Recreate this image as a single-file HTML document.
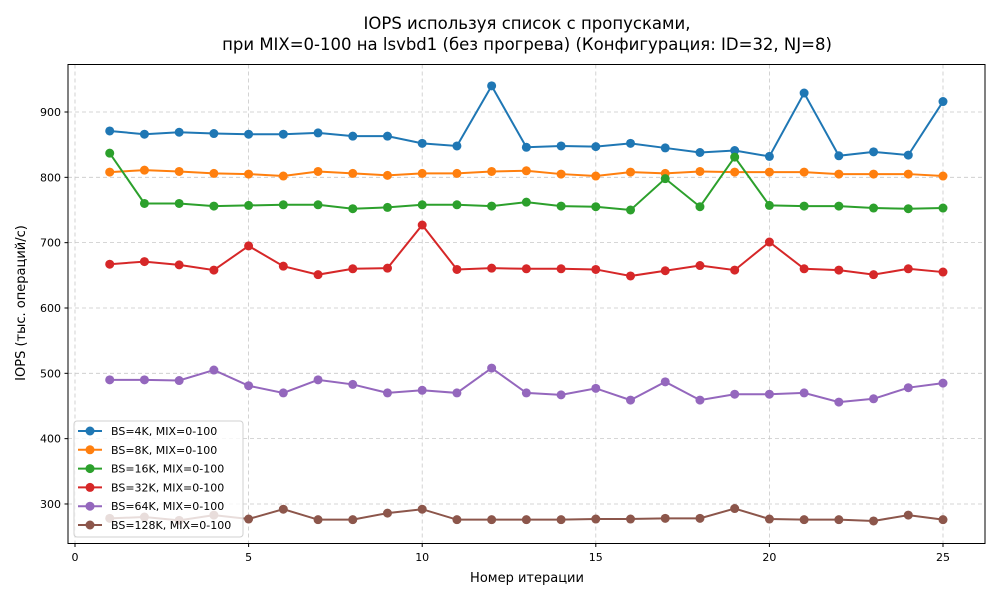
<!DOCTYPE html>
<html><head><meta charset="utf-8"><style>
body{margin:0;background:#fff;font-family:"Liberation Sans","DejaVu Sans",sans-serif}
</style></head><body>
<svg id="chart" width="1000" height="600" xmlns="http://www.w3.org/2000/svg" font-family="'DejaVu Sans','Liberation Sans',sans-serif">
<rect width="1000" height="600" fill="#fff"/>
<text x="527" y="29" text-anchor="middle" font-size="16.5">IOPS используя список с пропусками,</text>
<text x="527" y="50" text-anchor="middle" font-size="16.5">при MIX=0-100 на lsvbd1 (без прогрева) (Конфигурация: ID=32, NJ=8)</text>
<g id="grid"></g>
<g id="axes"></g>
<g id="series"></g>
<rect x="68" y="64.5" width="917" height="479" fill="none" stroke="#000" stroke-width="1"/>
<text x="527" y="582" text-anchor="middle" font-size="13">Номер итерации</text>
<text transform="translate(25,303) rotate(-90)" text-anchor="middle" font-size="13">IOPS (тыс. операций/с)</text>
<g id="legend"></g>
</svg>
<script>
const iterations=[1,2,3,4,5,6,7,8,9,10,11,12,13,14,15,16,17,18,19,20,21,22,23,24,25];
const seriesNames=["BS=4K, MIX=0-100","BS=8K, MIX=0-100","BS=16K, MIX=0-100","BS=32K, MIX=0-100","BS=64K, MIX=0-100","BS=128K, MIX=0-100"];
const bs4k=[871,866,869,867,866,866,868,863,863,852,848,940,846,848,847,852,845,838,841,832,929,833,839,834,916];
const bs8k=[808,811,809,806,805,802,809,806,803,806,806,809,810,805,802,808,806,809,808,808,808,805,805,805,802];
const bs16k=[837,760,760,756,757,758,758,752,754,758,758,756,762,756,755,750,798,755,831,757,756,756,753,752,753];
const bs32k=[667,671,666,658,695,664,651,660,661,727,659,661,660,660,659,649,657,665,658,701,660,658,651,660,655];
const bs64k=[490,490,489,505,481,470,490,483,470,474,470,508,470,467,477,459,487,459,468,468,470,456,461,478,485];
const bs128k=[278,280,275,283,277,292,276,276,286,292,276,276,276,276,277,277,278,278,293,277,276,276,274,283,276];
const xTicks=[0,5,10,15,20,25];
const yTicks=[300,400,500,600,700,800,900];
const colors=["#1f77b4","#ff7f0e","#2ca02c","#d62728","#9467bd","#8c564b"];
const allSeries=[bs4k,bs8k,bs16k,bs32k,bs64k,bs128k];
const NS="http://www.w3.org/2000/svg";
const X=v=>75+v*34.72;
const Y=v=>112+(900-v)*0.6533;
function mk(tag,attrs,parent){const e=document.createElementNS(NS,tag);for(const k in attrs)e.setAttribute(k,attrs[k]);parent.appendChild(e);return e;}
const grid=document.getElementById('grid'),axes=document.getElementById('axes'),ser=document.getElementById('series'),leg=document.getElementById('legend');
xTicks.forEach(t=>{
 const g=mk('line',{x1:X(t),x2:X(t),y1:64.5,y2:543.5,stroke:'#c8c8c8','stroke-dasharray':'4,3','stroke-width':0.8},grid);
 
 
 const tk=mk('line',{x1:X(t),x2:X(t),y1:543.5,y2:547,stroke:'#000'},axes);
 
 
 const tx=mk('text',{x:X(t),y:561,'text-anchor':'middle','font-size':11},axes);tx.textContent=t;
 
 
});
yTicks.forEach(t=>{
 const g=mk('line',{x1:68,x2:985,y1:Y(t),y2:Y(t),stroke:'#c8c8c8','stroke-dasharray':'4,3','stroke-width':0.8},grid);
 
 
 const tk=mk('line',{x1:64.5,x2:68,y1:Y(t),y2:Y(t),stroke:'#000'},axes);
 
 
 const tx=mk('text',{x:61,y:Y(t)+4,'text-anchor':'end','font-size':11},axes);tx.textContent=t;
 
 
});
allSeries.forEach((vals,i)=>{
 const g=mk('g',{},ser);
 
 
 const pts=vals.map((v,j)=>X(iterations[j])+','+Y(v)).join(' ');
 const pl=mk('polyline',{points:pts,fill:'none',stroke:colors[i],'stroke-width':2},g);
 
 
 vals.forEach((v,j)=>{
  const c=mk('circle',{cx:X(iterations[j]),cy:Y(v),r:4.5,fill:colors[i]},g);
  
  
 });
});
const box=mk('rect',{x:74,y:421,width:169,height:116,rx:3,fill:'#fff','fill-opacity':0.8,stroke:'#d0d0d0'},leg);


seriesNames.forEach((n,i)=>{
 const y=431+i*18.8;
 const g=mk('g',{},leg);
 
 
 mk('line',{x1:78,x2:102,y1:y,y2:y,stroke:colors[i],'stroke-width':2},g);
 mk('circle',{cx:90,cy:y,r:4.5,fill:colors[i]},g);
 const t=mk('text',{x:111,y:y+4,'font-size':11},g);t.textContent=n;
});
</script>
</body></html>
